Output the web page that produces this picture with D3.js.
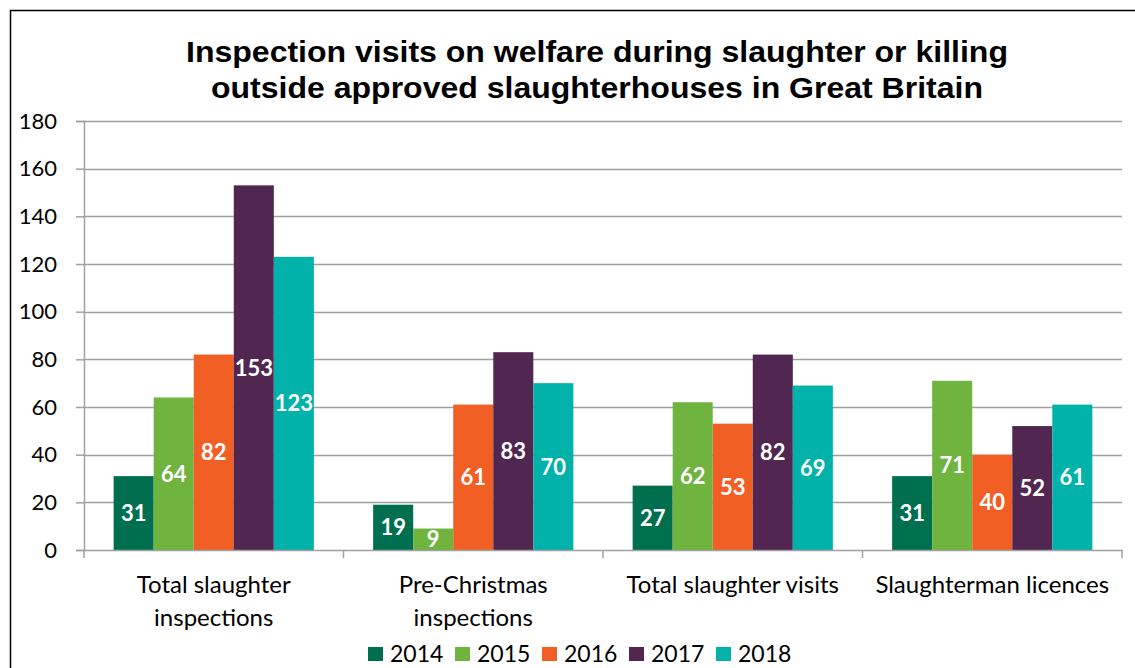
<!DOCTYPE html>
<html>
<head>
<meta charset="utf-8">
<script src="https://cdn.jsdelivr.net/npm/d3@7"></script>
<style>
  html, body { margin: 0; padding: 0; background: #fff; }
  svg { display: block; }
</style>
</head>
<body>
<svg id="chart" width="1135" height="668"></svg>
<script>
// Inspection visits, by activity and year
const categories = [
  ["Total slaughter", "inspections"],
  ["Pre-Christmas", "inspections"],
  ["Total slaughter visits"],
  ["Slaughterman licences"]
];
const years = ["2014", "2015", "2016", "2017", "2018"];
const values2014 = [31, 19, 27, 31];
const values2015 = [64, 9, 62, 71];
const values2016 = [82, 61, 53, 40];
const values2017 = [153, 83, 82, 52];
const values2018 = [123, 70, 69, 61];
const seriesValues = [values2014, values2015, values2016, values2017, values2018];
const colors = ["#006f4f", "#6fb43f", "#f15f24", "#512751", "#00b2a9"];
const yTicks = [0, 20, 40, 60, 80, 100, 120, 140, 160, 180];
const titleLines = [
  "Inspection visits on welfare during slaughter or killing",
  "outside approved slaughterhouses in Great Britain"
];
const titleWidths = [822, 772];

const svg = d3.select("#chart");
const W = 1135, H = 668;
const margin = { left: 84, right: 1122, top: 121, bottom: 550 };
const bodyFont = "Lato, 'Open Sans', sans-serif";
const gridColor = "#a0a0a0";

// outer frame
svg.append("rect")
  .attr("x", 10.5).attr("y", 10.5)
  .attr("width", W + 20).attr("height", H + 20)
  .attr("fill", "none").attr("stroke", "#000").attr("stroke-width", 1.5);

// title, two centred lines
svg.append("g").selectAll("text").data(titleLines).join("text")
  .attr("x", 597).attr("y", (d, i) => 62 + i * 36)
  .attr("text-anchor", "middle")
  .attr("font-family", "'Liberation Sans', Arial, sans-serif")
  .attr("font-weight", "bold").attr("font-size", 29)
  .attr("textLength", (d, i) => titleWidths[i])
  .attr("lengthAdjust", "spacingAndGlyphs")
  .attr("fill", "#000")
  .text(d => d);

const x0 = d3.scaleBand()
  .domain(d3.range(categories.length))
  .range([margin.left, margin.right])
  .paddingInner(0).paddingOuter(0);

const x1 = d3.scaleBand()
  .domain(years)
  .range([0, x0.bandwidth()])
  .paddingInner(0).paddingOuter(0.74);

const y = d3.scaleLinear().domain([0, 180]).range([margin.bottom, margin.top]);

// horizontal gridlines
svg.append("g").selectAll("line").data(yTicks.filter(t => t > 0)).join("line")
  .attr("x1", margin.left).attr("x2", margin.right)
  .attr("y1", d => Math.round(y(d)) + 0.5).attr("y2", d => Math.round(y(d)) + 0.5)
  .attr("stroke", gridColor).attr("stroke-width", 1.5);

// y axis
const yAxis = svg.append("g")
  .attr("transform", `translate(${margin.left},0)`)
  .call(d3.axisLeft(y).tickValues(yTicks).tickSize(8).tickPadding(19).tickFormat(d3.format("d")));
yAxis.select(".domain").attr("stroke", gridColor).attr("stroke-width", 1.5);
yAxis.selectAll(".tick line").attr("stroke", gridColor).attr("stroke-width", 1.5);
yAxis.selectAll(".tick text")
  .attr("font-family", bodyFont).attr("font-size", 22).attr("fill", "#000");

// bars with centred value labels
const groups = svg.append("g").selectAll("g").data(categories).join("g")
  .attr("transform", (d, i) => `translate(${x0(i)},0)`);

groups.each(function (cat, ci) {
  const g = d3.select(this);
  const rows = years.map((yr, si) => ({ yr, si, v: seriesValues[si][ci] }));
  g.selectAll("rect").data(rows).join("rect")
    .attr("x", d => x1(d.yr))
    .attr("y", d => y(d.v))
    .attr("width", x1.bandwidth())
    .attr("height", d => y(0) - y(d.v))
    .attr("fill", d => colors[d.si]);
  g.selectAll("text").data(rows).join("text")
    .attr("x", d => x1(d.yr) + x1.bandwidth() / 2)
    .attr("y", d => (y(d.v) + y(0)) / 2)
    .attr("dy", "0.36em")
    .attr("text-anchor", "middle")
    .attr("font-family", bodyFont).attr("font-weight", "bold").attr("font-size", 22)
    .attr("fill", "#fff")
    .text(d => d.v);
});

// x axis line and category separators
const xAxis = svg.append("g")
  .attr("transform", `translate(0,${margin.bottom})`)
  .call(d3.axisBottom(x0).tickSize(0).tickFormat(""));
xAxis.select(".domain").attr("stroke", gridColor).attr("stroke-width", 1.5);
svg.append("g").selectAll("line").data(d3.range(categories.length + 1)).join("line")
  .attr("x1", i => margin.left + i * x0.step()).attr("x2", i => margin.left + i * x0.step())
  .attr("y1", margin.bottom).attr("y2", margin.bottom + 8)
  .attr("stroke", gridColor).attr("stroke-width", 1.5);

// category labels
svg.append("g").selectAll("text").data(categories).join("text")
  .attr("x", (d, i) => x0(i) + x0.bandwidth() / 2)
  .attr("y", 593)
  .attr("text-anchor", "middle")
  .attr("font-family", bodyFont).attr("font-size", 24).attr("fill", "#000")
  .each(function (lines) {
    d3.select(this).selectAll("tspan").data(lines).join("tspan")
      .attr("x", d3.select(this).attr("x"))
      .attr("dy", (d, j) => j === 0 ? 0 : 33)
      .text(d => d);
  });

// legend
const legend = svg.append("g").selectAll("g").data(years).join("g")
  .attr("transform", (d, i) => `translate(${368 + i * 87},0)`);
legend.append("rect")
  .attr("x", 0).attr("y", 647).attr("width", 15).attr("height", 14)
  .attr("fill", (d, i) => colors[i]);
legend.append("text")
  .attr("x", 22).attr("y", 662)
  .attr("font-family", bodyFont).attr("font-size", 23).attr("fill", "#000")
  .text(d => d);
</script>
</body>
</html>
